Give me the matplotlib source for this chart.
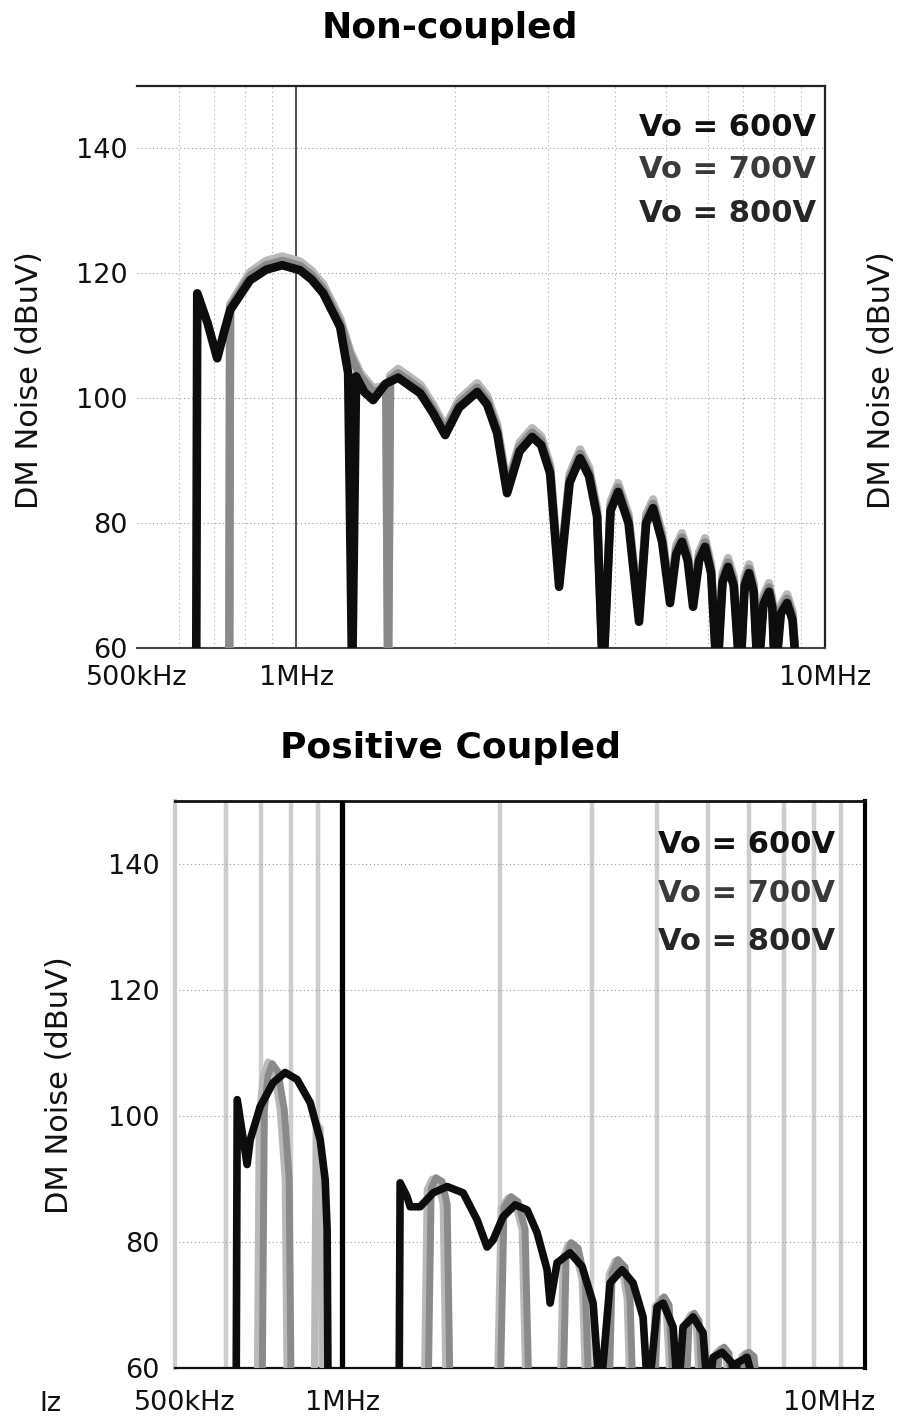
import matplotlib
matplotlib.use('Agg')
import matplotlib.pyplot as plt
from matplotlib.ticker import FixedLocator, NullFormatter, FixedFormatter
from matplotlib.transforms import ScaledTranslation

plt.rcParams['font.family'] = ['DejaVu Sans']

W, H, DPI = 909, 1423, 100

# ---------------- data (frequency in MHz, noise in dBuV) ----------------
series_labels = ['Vo = 600V', 'Vo = 700V', 'Vo = 800V']
x_ticks = [0.5, 1, 10]
x_ticklabels = ['500kHz', '1MHz', '10MHz']
y_ticks = [60, 80, 100, 120, 140]

# Non-coupled, Vo = 600V
nc_f_600 = [0.647, 0.650, 0.680, 0.709, 0.730, 0.750, 0.818, 0.878, 0.941, 1.017, 1.070, 1.125,
            1.211, 1.254, 1.276, 1.298, 1.345, 1.398, 1.475, 1.559, 1.716, 1.815, 1.913, 2.033,
            2.199, 2.296, 2.399, 2.505, 2.645, 2.794, 2.905, 3.021, 3.142, 3.289, 3.443, 3.58,
            3.707, 3.804, 3.931, 4.062, 4.251, 4.450, 4.59, 4.730, 4.92, 5.093, 5.23, 5.365,
            5.50, 5.630, 5.78, 5.933, 6.09, 6.249, 6.40, 6.556, 6.72, 6.908, 7.05, 7.183,
            7.33, 7.469, 7.65, 7.837, 7.95, 8.045, 8.25, 8.478, 8.68, 8.853]
nc_db_600 = [55, 116.8, 112.0, 106.4, 110.5, 114.1, 118.9, 120.6, 121.3, 120.5, 119.0, 116.8,
             111.4, 104.0, 55, 103.5, 101.0, 99.7, 102.3, 103.3, 100.8, 97.6, 94.1, 98.5,
             101.0, 99.0, 94.4, 84.8, 91.5, 93.8, 92.5, 88.0, 69.8, 86.5, 90.4, 87.5,
             81.0, 55, 82.0, 85.0, 80.0, 64.2, 80.0, 82.4, 77.0, 67.2, 75.0, 77.0,
             74.0, 66.6, 74.0, 76.2, 72.0, 55, 70.5, 73.0, 70.0, 55, 70.0, 72.0,
             69.0, 55, 67.0, 69.0, 66.5, 55, 65.5, 67.2, 64.5, 55]

# Non-coupled, Vo = 700V
nc_f_700 = [0.747, 0.750, 0.818, 0.878, 0.941, 1.017, 1.070, 1.125, 1.211, 1.265, 1.321, 1.398,
            1.480, 1.492, 1.505, 1.559, 1.716, 1.815, 1.913, 2.033, 2.199, 2.296, 2.399, 2.505,
            2.645, 2.794, 2.905, 3.021, 3.142, 3.289, 3.443, 3.58, 3.707, 3.804, 3.931, 4.062,
            4.251, 4.450, 4.59, 4.730, 4.92, 5.093, 5.23, 5.365, 5.50, 5.630, 5.78, 5.933,
            6.09, 6.249, 6.40, 6.556, 6.72, 6.908, 7.05, 7.183, 7.33, 7.469, 7.65, 7.837,
            7.95, 8.045, 8.25, 8.478, 8.68, 8.853]
nc_db_700 = [55, 114.5, 119.6, 121.3, 122.0, 121.2, 119.7, 117.5, 112.1, 107.0, 103.5, 101.0,
             101.5, 55, 103.0, 104.0, 101.5, 98.3, 94.8, 99.2, 101.7, 99.7, 95.1, 85.5,
             92.2, 94.5, 93.2, 88.7, 70.5, 87.2, 91.1, 88.2, 81.7, 55, 82.7, 85.7,
             80.7, 64.9, 80.7, 83.1, 77.7, 67.9, 75.7, 77.7, 74.7, 67.3, 74.7, 76.9,
             72.7, 55, 71.2, 73.7, 70.7, 55, 70.7, 72.7, 69.7, 55, 67.7, 69.7,
             67.2, 55, 66.2, 67.9, 65.2, 55]

# Non-coupled, Vo = 800V
nc_f_800 = [0.747, 0.750, 0.818, 0.878, 0.941, 1.017, 1.070, 1.125, 1.211, 1.265, 1.321, 1.398,
            1.480, 1.492, 1.505, 1.559, 1.716, 1.815, 1.913, 2.033, 2.199, 2.296, 2.399, 2.505,
            2.645, 2.794, 2.905, 3.021, 3.142, 3.289, 3.443, 3.58, 3.707, 3.804, 3.931, 4.062,
            4.251, 4.450, 4.59, 4.730, 4.92, 5.093, 5.23, 5.365, 5.50, 5.630, 5.78, 5.933,
            6.09, 6.249, 6.40, 6.556, 6.72, 6.908, 7.05, 7.183, 7.33, 7.469, 7.65, 7.837,
            7.95, 8.045, 8.25, 8.478, 8.68, 8.853]
nc_db_800 = [55, 115.0, 120.2, 122.0, 122.7, 121.9, 120.4, 118.2, 112.8, 107.6, 104.1, 101.6,
             102.1, 55, 103.6, 104.7, 102.2, 99.0, 95.4, 99.8, 102.4, 100.4, 95.8, 86.1,
             92.9, 95.2, 93.9, 89.3, 71.1, 87.9, 91.8, 88.9, 82.4, 55, 83.4, 86.4,
             81.4, 65.5, 81.4, 83.8, 78.4, 68.5, 76.4, 78.4, 75.4, 67.9, 75.4, 77.6,
             73.4, 55, 71.9, 74.4, 71.4, 55, 71.4, 73.4, 70.4, 55, 68.4, 70.4,
             67.9, 55, 66.9, 68.6, 65.9, 55]

# Positive coupled, Vo = 600V
pc_f_600 = [0.627, 0.630, 0.658, 0.667, 0.697, 0.738, 0.778, 0.820, 0.869, 0.908, 0.928, 0.936,
            0.940, 1.285, 1.291, 1.331, 1.349, 1.410, 1.493, 1.588, 1.704, 1.812, 1.893, 1.944,
            2.031, 2.142, 2.258, 2.359, 2.466, 2.499, 2.577, 2.729, 2.877, 3.020, 3.113, 3.254,
            3.430, 3.601, 3.763, 3.847, 4.004, 4.111, 4.296, 4.391, 4.487, 4.690, 4.901, 5.010,
            5.122, 5.329, 5.568, 5.642, 5.692, 5.948, 6.244]
pc_db_600 = [55, 102.6, 92.3, 96.2, 101.5, 105.3, 106.9, 105.8, 102.1, 96.2, 89.9, 82.0,
             55, 55, 89.4, 87.2, 85.6, 85.6, 87.8, 88.8, 87.8, 83.5, 79.2, 80.3,
             84.0, 85.9, 85.1, 81.5, 75.6, 70.3, 76.7, 78.3, 76.1, 70.3, 55, 73.5,
             75.6, 73.5, 68.1, 55, 69.7, 70.3, 66.5, 55, 66.5, 68.1, 65.6, 55,
             61.7, 62.5, 60.8, 55, 60.8, 61.7, 55]

# Positive coupled, Vo = 700V
pc_f_700 = [0.703, 0.710, 0.722, 0.735, 0.754, 0.775, 0.792, 0.799,
            1.460, 1.480, 1.512, 1.553, 1.588, 1.609,
            2.005, 2.040, 2.104, 2.170, 2.238, 2.278,
            2.646, 2.681, 2.741, 2.827, 2.915, 2.967,
            3.240, 3.283, 3.371, 3.476, 3.553, 3.601,
            3.951, 4.021, 4.128, 4.220, 4.313,
            4.547, 4.608, 4.710, 4.815, 4.901,
            5.190, 5.259, 5.376, 5.495, 5.568,
            5.818, 5.896, 6.000, 6.135, 6.244]
pc_db_700 = [55, 101.0, 106.5, 108.3, 107.0, 101.0, 90.0, 55,
             55, 88.5, 90.2, 89.6, 86.0, 55,
             55, 85.5, 87.2, 86.4, 82.0, 55,
             55, 77.5, 79.9, 79.0, 74.0, 55,
             55, 75.0, 77.2, 76.0, 71.0, 55,
             55, 70.0, 71.3, 70.0, 55,
             55, 67.5, 68.7, 67.5, 55,
             55, 62.5, 63.3, 62.3, 55,
             55, 62.0, 62.5, 61.8, 55]

# Positive coupled, Vo = 800V
pc_f_800 = [0.688, 0.694, 0.706, 0.722, 0.741, 0.761, 0.778, 0.785,
            0.884, 0.892, 0.908, 0.920,
            1.435, 1.454, 1.486, 1.526, 1.560, 1.581,
            1.979, 2.014, 2.077, 2.142, 2.209, 2.248,
            2.611, 2.646, 2.705, 2.790, 2.877, 2.928,
            3.198, 3.240, 3.327, 3.430, 3.507, 3.553,
            3.899, 3.968, 4.074, 4.164, 4.256,
            4.487, 4.547, 4.649, 4.753, 4.837,
            5.122, 5.190, 5.305, 5.424, 5.495,
            5.742, 5.818, 5.923, 6.053, 6.161]
pc_db_800 = [55, 100.0, 106.0, 108.6, 107.2, 101.0, 90.0, 55,
             55, 99.0, 98.0, 55,
             55, 88.3, 90.0, 89.3, 86.0, 55,
             55, 85.3, 87.0, 86.2, 82.0, 55,
             55, 77.3, 79.6, 78.8, 74.0, 55,
             55, 74.8, 77.0, 75.8, 71.0, 55,
             55, 69.8, 71.0, 69.8, 55,
             55, 67.3, 68.5, 67.3, 55,
             55, 62.4, 63.1, 62.2, 55,
             55, 61.9, 62.4, 61.7, 55]

# ---------------- styling ----------------
line_colors = ['#0d0d0d', '#8a8a8a', '#b9b9b9']
legend_colors = ['#111111', '#3a3a3a', '#262626']
minor_grid = [0.6, 0.7, 0.8, 0.9, 2, 3, 4, 5, 6, 7, 8, 9]

fig = plt.figure(figsize=(W / DPI, H / DPI), dpi=DPI)


def px_axes(left, top, right, bottom):
    return fig.add_axes([left / W, 1 - bottom / H, (right - left) / W, (bottom - top) / H])


def ftext(x, y, s, **kw):
    fig.text(x / W, 1 - y / H, s, **kw)


def setup(ax, xlim, ypad, xpad):
    ax.set_xscale('log')
    ax.set_xlim(*xlim)
    ax.set_ylim(60, 150)
    ax.xaxis.set_major_locator(FixedLocator(x_ticks))
    ax.xaxis.set_major_formatter(FixedFormatter(x_ticklabels))
    ax.xaxis.set_minor_locator(FixedLocator(minor_grid))
    ax.xaxis.set_minor_formatter(NullFormatter())
    ax.yaxis.set_major_locator(FixedLocator(y_ticks))
    ax.tick_params(axis='both', which='both', length=0, labelsize=19.5, colors='#111111')
    ax.tick_params(axis='y', pad=ypad)
    ax.tick_params(axis='x', pad=xpad)
    ax.grid(axis='y', which='major', ls=(0, (1, 2.5)), color='#9a9a9a', lw=0.8, zorder=0)
    ax.set_axisbelow(True)


# ---------------- top panel: Non-coupled ----------------
ax1 = px_axes(137, 86, 825, 648)
setup(ax1, (0.5, 10), 6.5, 12)
ax1.grid(axis='x', which='minor', ls=(0, (1, 3)), color='#a8a8a8', lw=0.8)
ax1.axvline(1, color='#333333', lw=1.2, zorder=1)
for s in ['top', 'right']:
    ax1.spines[s].set_color('#222222')
    ax1.spines[s].set_linewidth(1.6)
ax1.spines['bottom'].set_color('#444444')
ax1.spines['bottom'].set_linewidth(1.5)
ax1.spines['left'].set_visible(False)

ax1.plot(nc_f_800, nc_db_800, color=line_colors[2], lw=6, solid_joinstyle='round', zorder=3)
ax1.plot(nc_f_700, nc_db_700, color=line_colors[1], lw=6, solid_joinstyle='round', zorder=4)
ax1.plot(nc_f_600, nc_db_600, color=line_colors[0], lw=6.2, solid_joinstyle='round', zorder=5)

ftext(450, 28, 'Non-coupled', ha='center', va='center', fontsize=26, fontweight='bold')
ftext(30, 380, 'DM Noise (dBuV)', ha='center', va='center', rotation=90, fontsize=22, color='#111111')
ftext(882, 380, 'DM Noise (dBuV)', ha='center', va='center', rotation=90, fontsize=22, color='#111111')
for i, (lab, c) in enumerate(zip(series_labels, legend_colors)):
    ftext(816, 127 + 43 * i, lab, ha='right', va='center', fontsize=22, fontweight='bold', color=c)

# ---------------- bottom panel: Positive Coupled ----------------
ax2 = px_axes(175, 801, 865, 1368)
setup(ax2, (0.479, 10), 11, 16)
ax2.grid(axis='x', which='minor', ls='-', color='#cdcdcd', lw=3.2)
ax2.axvline(1, color='#000000', lw=3.8, zorder=6)
ax2.spines['top'].set_color('#111111')
ax2.spines['top'].set_linewidth(2)
ax2.spines['right'].set_color('#000000')
ax2.spines['right'].set_linewidth(3)
ax2.spines['bottom'].set_color('#111111')
ax2.spines['bottom'].set_linewidth(1.6)
ax2.spines['left'].set_color('#cdcdcd')
ax2.spines['left'].set_linewidth(3)

ax2.plot(pc_f_800, pc_db_800, color=line_colors[2], lw=5, solid_joinstyle='round', zorder=3)
ax2.plot(pc_f_700, pc_db_700, color=line_colors[1], lw=5, solid_joinstyle='round', zorder=4)
ax2.plot(pc_f_600, pc_db_600, color=line_colors[0], lw=5.5, solid_joinstyle='round', zorder=5)

# shift the last tick label of the lower panel to the left as in the source
lbls = ax2.get_xticklabels()
lbls[-1].set_transform(lbls[-1].get_transform() + ScaledTranslation(-36 / DPI, 0, fig.dpi_scale_trans))

ftext(450, 748, 'Positive Coupled', ha='center', va='center', fontsize=26, fontweight='bold')
ftext(60, 1085, 'DM Noise (dBuV)', ha='center', va='center', rotation=90, fontsize=22, color='#111111')
ftext(50, 1404, 'Iz', ha='center', va='center', fontsize=19.5, color='#111111')
for i, (lab, c) in enumerate(zip(series_labels, legend_colors)):
    ftext(835, 845 + 48.5 * i, lab, ha='right', va='center', fontsize=22, fontweight='bold', color=c)

fig.savefig('out.png', dpi=DPI)
